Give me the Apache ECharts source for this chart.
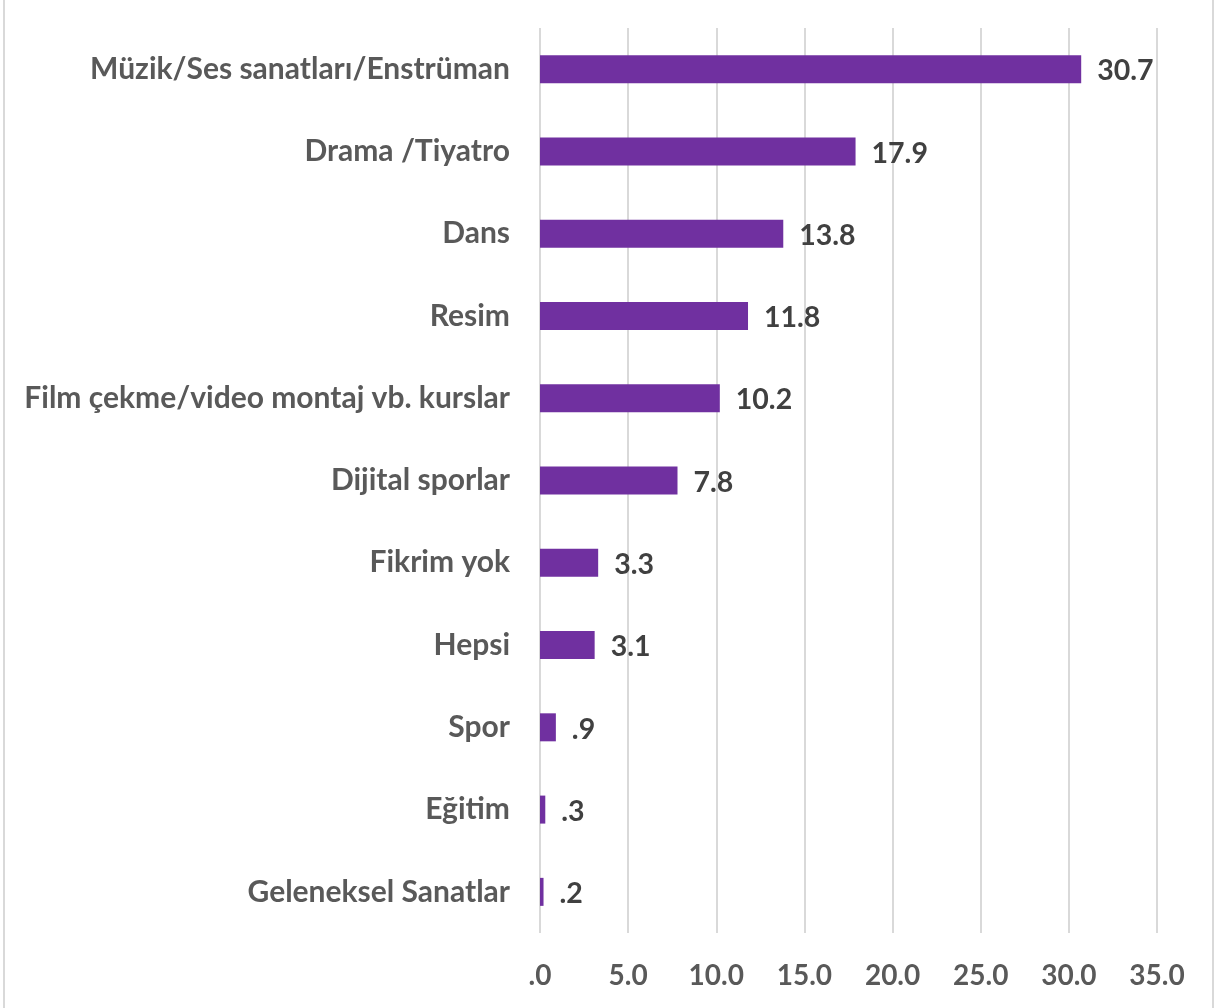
<!DOCTYPE html>
<html><head><meta charset="utf-8">
<script src="https://cdn.jsdelivr.net/npm/echarts@6/dist/echarts.min.js"></script>
<style>html,body{margin:0;padding:0;background:#fff}#c{width:1215px;height:1008px}</style>
</head><body><div id="c"></div>
<script>
const categories = ["Müzik/Ses sanatları/Enstrüman","Drama /Tiyatro","Dans","Resim","Film çekme/video montaj vb. kurslar","Dijital sporlar","Fikrim yok","Hepsi","Spor","Eğitim","Geleneksel Sanatlar"];
const values = [30.7,17.9,13.8,11.8,10.2,7.8,3.3,3.1,0.9,0.3,0.2];
const fmt = v => { let s = Number(v).toFixed(1); if (s.startsWith("0")) s = s.slice(1); return s; };
const chart = echarts.init(document.getElementById('c'));
chart.setOption({
  animation:false,
  grid:{left:540,right:58,top:28,bottom:75,containLabel:false},
  xAxis:{type:'value',min:0,max:35,interval:5,
    axisLine:{show:false},axisTick:{show:false},
    splitLine:{lineStyle:{color:'#d9d9d9',width:2}},
    axisLabel:{formatter:fmt,color:'#595959',fontFamily:'Lato',fontWeight:'bold',fontSize:28,margin:29}},
  yAxis:{type:'category',data:categories,inverse:true,
    axisLine:{show:false},axisTick:{show:false},
    axisLabel:{color:'#595959',fontFamily:'Lato',fontWeight:'bold',fontSize:30,margin:30}},
  series:[{type:'bar',data:values,barWidth:28,itemStyle:{color:'#7030A0'},
    label:{show:true,position:'right',distance:16,formatter:p=>fmt(p.value),color:'#404040',fontFamily:'Lato',fontWeight:'bold',fontSize:28.5,offset:[0,2]}}],
  graphic:[
    {type:'rect',shape:{x:4,y:-2,width:1209,height:1012},style:{fill:'none',stroke:'#d9d9d9',lineWidth:2},silent:true}
  ]
});
</script></body></html>
